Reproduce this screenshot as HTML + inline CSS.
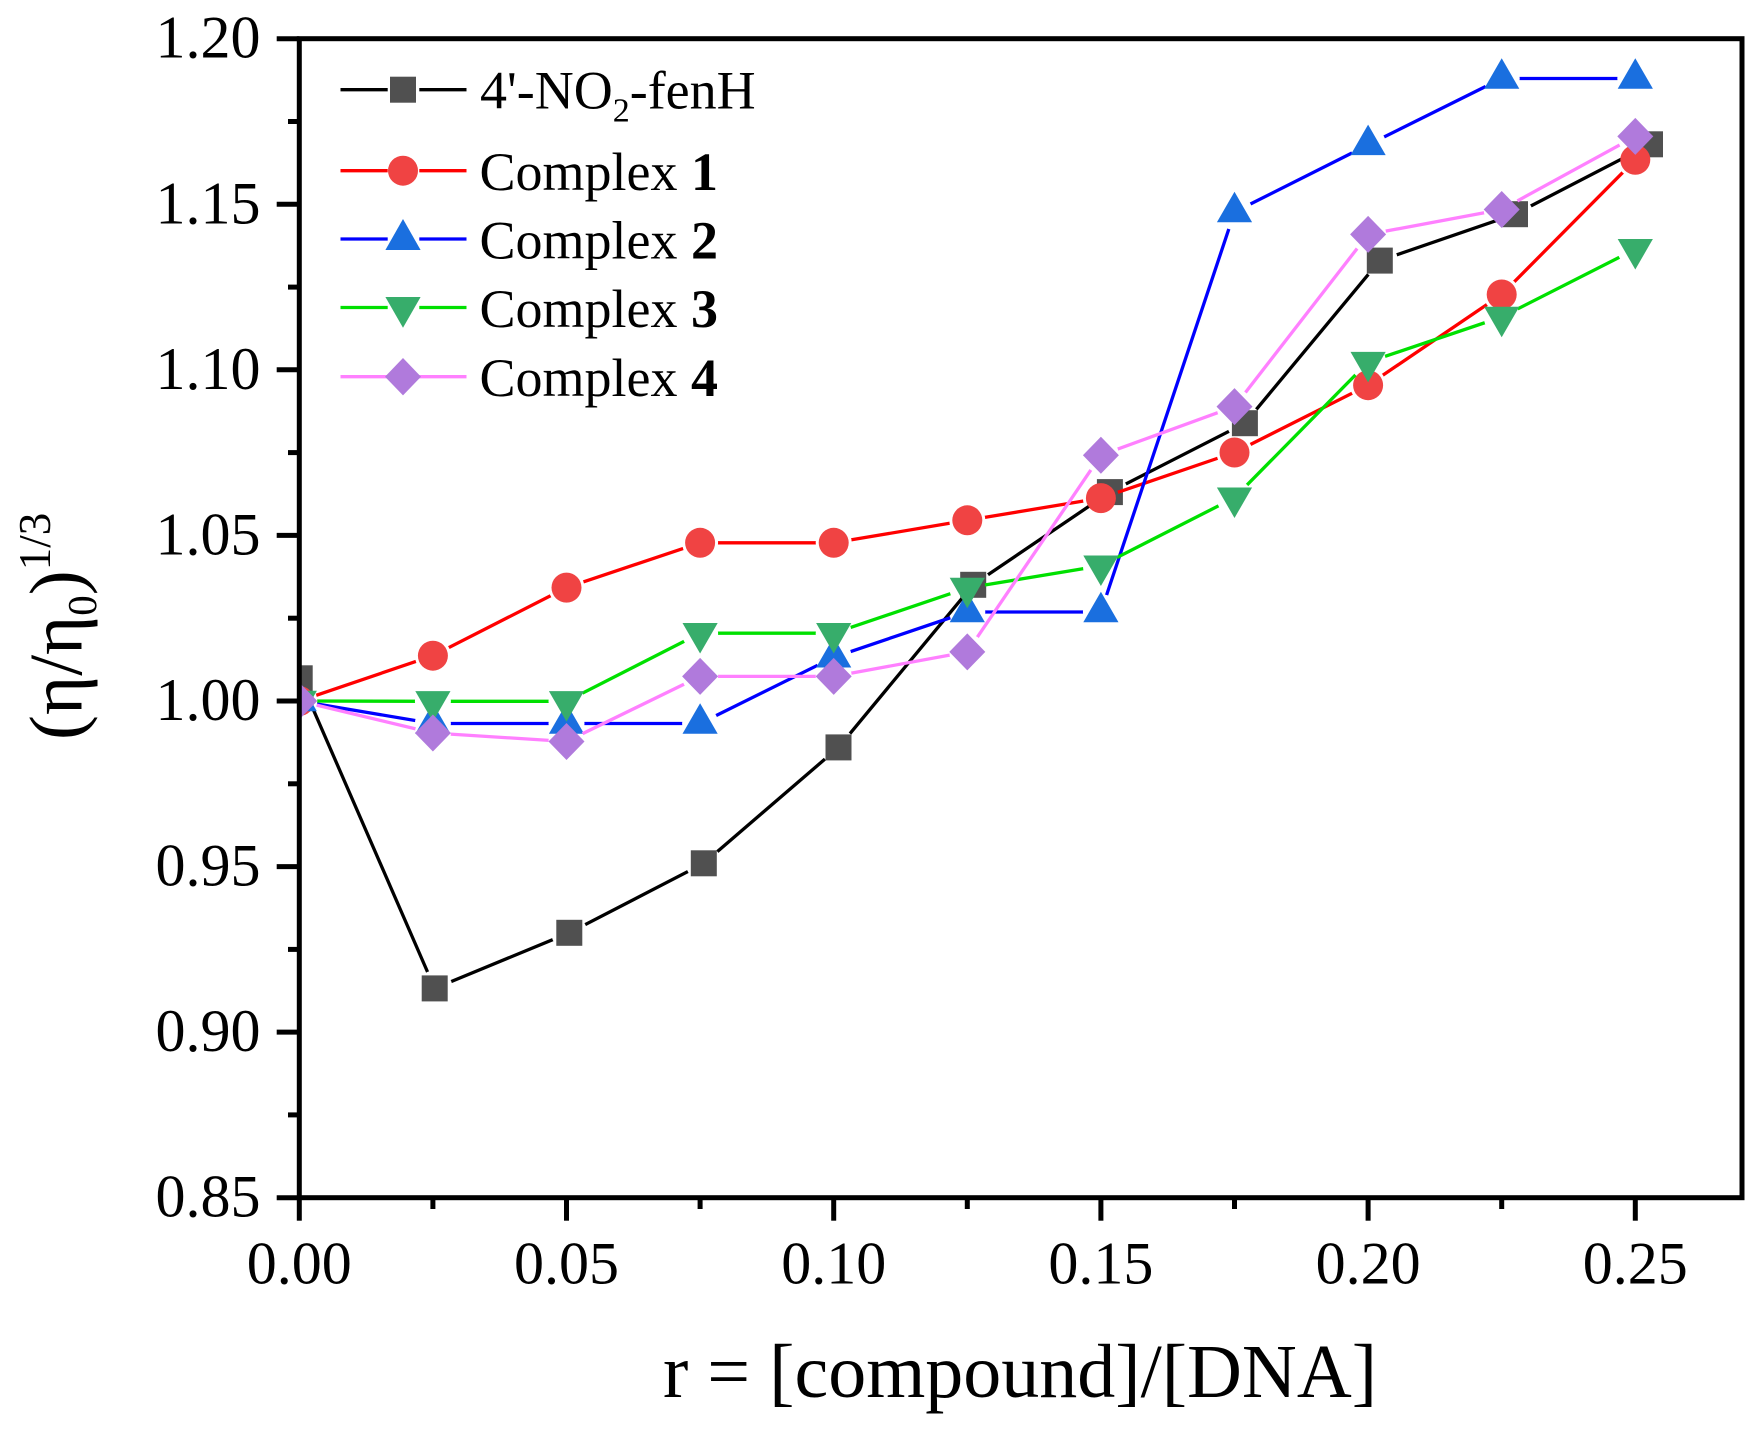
<!DOCTYPE html>
<html>
<head>
<meta charset="utf-8">
<style>
  html, body { margin: 0; padding: 0; background: #fff; }
  svg { display: block; }
  text { font-family: "Liberation Serif", "Times New Roman", serif; fill: #000; }
</style>
</head>
<body>
<svg width="1760" height="1433" viewBox="0 0 1760 1433" xmlns="http://www.w3.org/2000/svg">
  <defs>
    <clipPath id="plot">
      <rect x="299.3" y="38.7" width="1442.7" height="1159"/>
    </clipPath>
    <mask id="mK" maskUnits="userSpaceOnUse" x="0" y="0" width="1760" height="1433">
      <rect x="0" y="0" width="1760" height="1433" fill="#fff"/>
      <g fill="#000">
        <circle cx="299.7" cy="678.3" r="18"/><circle cx="434.7" cy="988.4" r="18"/>
        <circle cx="569.3" cy="932.8" r="18"/><circle cx="703.8" cy="863.3" r="18"/>
        <circle cx="838.5" cy="747.4" r="18"/><circle cx="973.2" cy="584.8" r="18"/>
        <circle cx="1109.9" cy="492.1" r="18"/><circle cx="1244.9" cy="423.2" r="18"/>
        <circle cx="1379.8" cy="260.6" r="18"/><circle cx="1515" cy="214.2" r="18"/>
        <circle cx="1650" cy="144.3" r="18"/>
      </g>
    </mask>
    <mask id="mR" maskUnits="userSpaceOnUse" x="0" y="0" width="1760" height="1433">
      <rect x="0" y="0" width="1760" height="1433" fill="#fff"/>
      <g fill="#000">
        <circle cx="299.3" cy="701" r="18"/><circle cx="432.9" cy="655.7" r="18"/>
        <circle cx="566.5" cy="587.6" r="18"/><circle cx="700.1" cy="542.8" r="18"/>
        <circle cx="833.7" cy="542.8" r="18"/><circle cx="967.3" cy="520.3" r="18"/>
        <circle cx="1100.9" cy="498.1" r="18"/><circle cx="1234.5" cy="452.5" r="18"/>
        <circle cx="1368.1" cy="385.2" r="18"/><circle cx="1501.7" cy="294.5" r="18"/>
        <circle cx="1635.3" cy="159.8" r="18"/>
      </g>
    </mask>
    <mask id="mB" maskUnits="userSpaceOnUse" x="0" y="0" width="1760" height="1433">
      <rect x="0" y="0" width="1760" height="1433" fill="#fff"/>
      <g fill="#000">
        <circle cx="299.3" cy="701" r="18"/><circle cx="432.9" cy="723.5" r="18"/>
        <circle cx="566.5" cy="723.5" r="18"/><circle cx="700.1" cy="723.5" r="18"/>
        <circle cx="833.7" cy="657.3" r="18"/><circle cx="967.3" cy="612" r="18"/>
        <circle cx="1100.9" cy="612" r="18"/><circle cx="1234.5" cy="212" r="18"/>
        <circle cx="1368.1" cy="144.9" r="18"/><circle cx="1501.7" cy="78.5" r="18"/>
        <circle cx="1635.3" cy="78.5" r="18"/>
      </g>
    </mask>
    <mask id="mG" maskUnits="userSpaceOnUse" x="0" y="0" width="1760" height="1433">
      <rect x="0" y="0" width="1760" height="1433" fill="#fff"/>
      <g fill="#000">
        <circle cx="299.3" cy="701" r="18"/><circle cx="432.9" cy="701.3" r="18"/>
        <circle cx="566.5" cy="701.3" r="18"/><circle cx="700.1" cy="633.2" r="18"/>
        <circle cx="833.7" cy="633.2" r="18"/><circle cx="967.3" cy="587.9" r="18"/>
        <circle cx="1100.9" cy="565.7" r="18"/><circle cx="1234.5" cy="497.7" r="18"/>
        <circle cx="1368.1" cy="362.1" r="18"/><circle cx="1501.7" cy="317" r="18"/>
        <circle cx="1635.3" cy="249.2" r="18"/>
      </g>
    </mask>
    <mask id="mP" maskUnits="userSpaceOnUse" x="0" y="0" width="1760" height="1433">
      <rect x="0" y="0" width="1760" height="1433" fill="#fff"/>
      <g fill="#000">
        <circle cx="299.3" cy="701" r="18"/><circle cx="432.9" cy="733" r="18"/>
        <circle cx="566.5" cy="741.5" r="18"/><circle cx="700.1" cy="676.4" r="18"/>
        <circle cx="833.7" cy="676.4" r="18"/><circle cx="967.3" cy="651.9" r="18"/>
        <circle cx="1100.9" cy="455.2" r="18"/><circle cx="1234.5" cy="406.6" r="18"/>
        <circle cx="1368.1" cy="234.4" r="18"/><circle cx="1501.7" cy="209.5" r="18"/>
        <circle cx="1635.3" cy="136.4" r="18"/>
      </g>
    </mask>
  </defs>

  <!-- Data -->
  <g clip-path="url(#plot)">
    <!-- Black: 4'-NO2-fenH -->
    <polyline mask="url(#mK)" fill="none" stroke="#000" stroke-width="3.3" stroke-linejoin="round"
      points="299.7,678.3 434.7,988.4 569.3,932.8 703.8,863.3 838.5,747.4 973.2,584.8 1109.9,492.1 1244.9,423.2 1379.8,260.6 1515,214.2 1650,144.3"/>
    <g fill="#505050">
      <rect x="286.7" y="665.3" width="26" height="26"/>
      <rect x="421.7" y="975.4" width="26" height="26"/>
      <rect x="556.3" y="919.8" width="26" height="26"/>
      <rect x="690.8" y="850.3" width="26" height="26"/>
      <rect x="825.5" y="734.4" width="26" height="26"/>
      <rect x="960.2" y="571.8" width="26" height="26"/>
      <rect x="1096.9" y="479.1" width="26" height="26"/>
      <rect x="1231.9" y="410.2" width="26" height="26"/>
      <rect x="1366.8" y="247.6" width="26" height="26"/>
      <rect x="1502" y="201.2" width="26" height="26"/>
      <rect x="1637" y="131.3" width="26" height="26"/>
    </g>

    <!-- Red: Complex 1 -->
    <polyline mask="url(#mR)" fill="none" stroke="#FF0000" stroke-width="3.3" stroke-linejoin="round"
      points="299.3,701 432.9,655.7 566.5,587.6 700.1,542.8 833.7,542.8 967.3,520.3 1100.9,498.1 1234.5,452.5 1368.1,385.2 1501.7,294.5 1635.3,159.8"/>
    <g fill="#F04343">
      <circle cx="299.3" cy="701" r="15"/><circle cx="432.9" cy="655.7" r="15"/>
      <circle cx="566.5" cy="587.6" r="15"/><circle cx="700.1" cy="542.8" r="15"/>
      <circle cx="833.7" cy="542.8" r="15"/><circle cx="967.3" cy="520.3" r="15"/>
      <circle cx="1100.9" cy="498.1" r="15"/><circle cx="1234.5" cy="452.5" r="15"/>
      <circle cx="1368.1" cy="385.2" r="15"/><circle cx="1501.7" cy="294.5" r="15"/>
      <circle cx="1635.3" cy="159.8" r="15"/>
    </g>

    <!-- Blue: Complex 2 -->
    <polyline mask="url(#mB)" fill="none" stroke="#0000FF" stroke-width="3.3" stroke-linejoin="round"
      points="299.3,701 432.9,723.5 566.5,723.5 700.1,723.5 833.7,657.3 967.3,612 1100.9,612 1234.5,212 1368.1,144.9 1501.7,78.5 1635.3,78.5"/>
    <g fill="#1A6FDF">
      <polygon points="299.3,680.7 281.7,711.2 316.9,711.2"/>
      <polygon points="432.9,703.2 415.3,733.7 450.5,733.7"/>
      <polygon points="566.5,703.2 548.9,733.7 584.1,733.7"/>
      <polygon points="700.1,703.2 682.5,733.7 717.7,733.7"/>
      <polygon points="833.7,637 816.1,667.5 851.3,667.5"/>
      <polygon points="967.3,591.7 949.7,622.2 984.9,622.2"/>
      <polygon points="1100.9,591.7 1083.3,622.2 1118.5,622.2"/>
      <polygon points="1234.5,191.7 1216.9,222.2 1252.1,222.2"/>
      <polygon points="1368.1,124.6 1350.5,155.1 1385.7,155.1"/>
      <polygon points="1501.7,58.2 1484.1,88.7 1519.3,88.7"/>
      <polygon points="1635.3,58.2 1617.7,88.7 1652.9,88.7"/>
    </g>

    <!-- Green: Complex 3 -->
    <polyline mask="url(#mG)" fill="none" stroke="#00E000" stroke-width="3.3" stroke-linejoin="round"
      points="299.3,701 432.9,701.3 566.5,701.3 700.1,633.2 833.7,633.2 967.3,587.9 1100.9,565.7 1234.5,497.7 1368.1,362.1 1501.7,317 1635.3,249.2"/>
    <g fill="#37AD6B">
      <polygon points="281.7,690.8 316.9,690.8 299.3,721.3"/>
      <polygon points="415.3,691.1 450.5,691.1 432.9,721.6"/>
      <polygon points="548.9,691.1 584.1,691.1 566.5,721.6"/>
      <polygon points="682.5,623 717.7,623 700.1,653.5"/>
      <polygon points="816.1,623 851.3,623 833.7,653.5"/>
      <polygon points="949.7,577.7 984.9,577.7 967.3,608.2"/>
      <polygon points="1083.3,555.5 1118.5,555.5 1100.9,586"/>
      <polygon points="1216.9,487.5 1252.1,487.5 1234.5,518"/>
      <polygon points="1350.5,351.9 1385.7,351.9 1368.1,382.4"/>
      <polygon points="1484.1,306.8 1519.3,306.8 1501.7,337.3"/>
      <polygon points="1617.7,239 1652.9,239 1635.3,269.5"/>
    </g>

    <!-- Pink: Complex 4 -->
    <polyline mask="url(#mP)" fill="none" stroke="#FF80FF" stroke-width="3.3" stroke-linejoin="round"
      points="299.3,701 432.9,733 566.5,741.5 700.1,676.4 833.7,676.4 967.3,651.9 1100.9,455.2 1234.5,406.6 1368.1,234.4 1501.7,209.5 1635.3,136.4"/>
    <g fill="#B07ADC">
      <polygon points="299.3,682.5 317.3,701 299.3,719.5 281.3,701"/>
      <polygon points="432.9,714.5 450.9,733 432.9,751.5 414.9,733"/>
      <polygon points="566.5,723 584.5,741.5 566.5,760 548.5,741.5"/>
      <polygon points="700.1,657.9 718.1,676.4 700.1,694.9 682.1,676.4"/>
      <polygon points="833.7,657.9 851.7,676.4 833.7,694.9 815.7,676.4"/>
      <polygon points="967.3,633.4 985.3,651.9 967.3,670.4 949.3,651.9"/>
      <polygon points="1100.9,436.7 1118.9,455.2 1100.9,473.7 1082.9,455.2"/>
      <polygon points="1234.5,388.1 1252.5,406.6 1234.5,425.1 1216.5,406.6"/>
      <polygon points="1368.1,215.9 1386.1,234.4 1368.1,252.9 1350.1,234.4"/>
      <polygon points="1501.7,191 1519.7,209.5 1501.7,228 1483.7,209.5"/>
      <polygon points="1635.3,117.9 1653.3,136.4 1635.3,154.9 1617.3,136.4"/>
    </g>
  </g>

  <!-- Axes frame -->
  <rect x="299.3" y="38.7" width="1442.7" height="1159" fill="none" stroke="#000" stroke-width="5"/>

  <!-- Y ticks -->
  <g stroke="#000" stroke-width="5">
    <line x1="276.7" y1="38.7" x2="299.3" y2="38.7"/>
    <line x1="276.7" y1="204.3" x2="299.3" y2="204.3"/>
    <line x1="276.7" y1="369.8" x2="299.3" y2="369.8"/>
    <line x1="276.7" y1="535.4" x2="299.3" y2="535.4"/>
    <line x1="276.7" y1="701" x2="299.3" y2="701"/>
    <line x1="276.7" y1="866.6" x2="299.3" y2="866.6"/>
    <line x1="276.7" y1="1032.1" x2="299.3" y2="1032.1"/>
    <line x1="276.7" y1="1197.7" x2="299.3" y2="1197.7"/>
    <line x1="288" y1="121.5" x2="299.3" y2="121.5"/>
    <line x1="288" y1="287.1" x2="299.3" y2="287.1"/>
    <line x1="288" y1="452.6" x2="299.3" y2="452.6"/>
    <line x1="288" y1="618.2" x2="299.3" y2="618.2"/>
    <line x1="288" y1="783.8" x2="299.3" y2="783.8"/>
    <line x1="288" y1="949.4" x2="299.3" y2="949.4"/>
    <line x1="288" y1="1114.9" x2="299.3" y2="1114.9"/>
    <!-- X ticks -->
    <line x1="299.3" y1="1197.7" x2="299.3" y2="1220.7"/>
    <line x1="566.5" y1="1197.7" x2="566.5" y2="1220.7"/>
    <line x1="833.7" y1="1197.7" x2="833.7" y2="1220.7"/>
    <line x1="1100.9" y1="1197.7" x2="1100.9" y2="1220.7"/>
    <line x1="1368.1" y1="1197.7" x2="1368.1" y2="1220.7"/>
    <line x1="1635.3" y1="1197.7" x2="1635.3" y2="1220.7"/>
    <line x1="432.9" y1="1197.7" x2="432.9" y2="1209"/>
    <line x1="700.1" y1="1197.7" x2="700.1" y2="1209"/>
    <line x1="967.3" y1="1197.7" x2="967.3" y2="1209"/>
    <line x1="1234.5" y1="1197.7" x2="1234.5" y2="1209"/>
    <line x1="1501.7" y1="1197.7" x2="1501.7" y2="1209"/>
  </g>

  <!-- Y tick labels -->
  <g font-size="60" text-anchor="end">
    <text x="260.5" y="57.7">1.20</text>
    <text x="260.5" y="223.3">1.15</text>
    <text x="260.5" y="388.8">1.10</text>
    <text x="260.5" y="554.4">1.05</text>
    <text x="260.5" y="720">1.00</text>
    <text x="260.5" y="885.6">0.95</text>
    <text x="260.5" y="1051.1">0.90</text>
    <text x="260.5" y="1216.7">0.85</text>
  </g>

  <!-- X tick labels -->
  <g font-size="60" text-anchor="middle">
    <text x="299.3" y="1283.5">0.00</text>
    <text x="566.5" y="1283.5">0.05</text>
    <text x="833.7" y="1283.5">0.10</text>
    <text x="1100.9" y="1283.5">0.15</text>
    <text x="1368.1" y="1283.5">0.20</text>
    <text x="1635.3" y="1283.5">0.25</text>
  </g>

  <!-- X axis title -->
  <text x="1020" y="1397" font-size="76" text-anchor="middle">r = [compound]/[DNA]</text>

  <!-- Y axis title -->
  <g transform="translate(81.5,740) rotate(-90)">
    <text x="0" y="0" font-size="75">(η/η<tspan font-size="41" dy="14.5">0</tspan><tspan dy="-14.5">)</tspan><tspan font-size="45" dy="-31.5">1/3</tspan></text>
  </g>

  <!-- Legend -->
  <g stroke-width="3.3">
    <line x1="340.5" y1="89.7" x2="387.7" y2="89.7" stroke="#000"/>
    <line x1="419.3" y1="89.7" x2="466.5" y2="89.7" stroke="#000"/>
    <line x1="340.5" y1="170.7" x2="387.7" y2="170.7" stroke="#FF0000"/>
    <line x1="419.3" y1="170.7" x2="466.5" y2="170.7" stroke="#FF0000"/>
    <line x1="340.5" y1="239" x2="387.7" y2="239" stroke="#0000FF"/>
    <line x1="419.3" y1="239" x2="466.5" y2="239" stroke="#0000FF"/>
    <line x1="340.5" y1="307.5" x2="387.7" y2="307.5" stroke="#00E000"/>
    <line x1="419.3" y1="307.5" x2="466.5" y2="307.5" stroke="#00E000"/>
    <line x1="340.5" y1="376.7" x2="387.7" y2="376.7" stroke="#FF80FF"/>
    <line x1="419.3" y1="376.7" x2="466.5" y2="376.7" stroke="#FF80FF"/>
  </g>
  <rect x="390" y="76.7" width="26" height="26" fill="#505050"/>
  <circle cx="403" cy="170.7" r="15" fill="#F04343"/>
  <polygon points="403,219 385.4,250 420.6,250" fill="#1A6FDF"/>
  <polygon points="385.4,297 420.6,297 403,327.7" fill="#37AD6B"/>
  <polygon points="403,358 421,376.7 403,395.4 385,376.7" fill="#B07ADC"/>

  <g font-size="54">
    <text x="480" y="108.5">4'-NO<tspan font-size="34" dy="13">2</tspan><tspan dy="-13">-fenH</tspan></text>
    <text x="479.5" y="190">Complex <tspan font-weight="bold">1</tspan></text>
    <text x="479.5" y="258.3">Complex <tspan font-weight="bold">2</tspan></text>
    <text x="479.5" y="326.8">Complex <tspan font-weight="bold">3</tspan></text>
    <text x="479.5" y="396">Complex <tspan font-weight="bold">4</tspan></text>
  </g>
</svg>
</body>
</html>
